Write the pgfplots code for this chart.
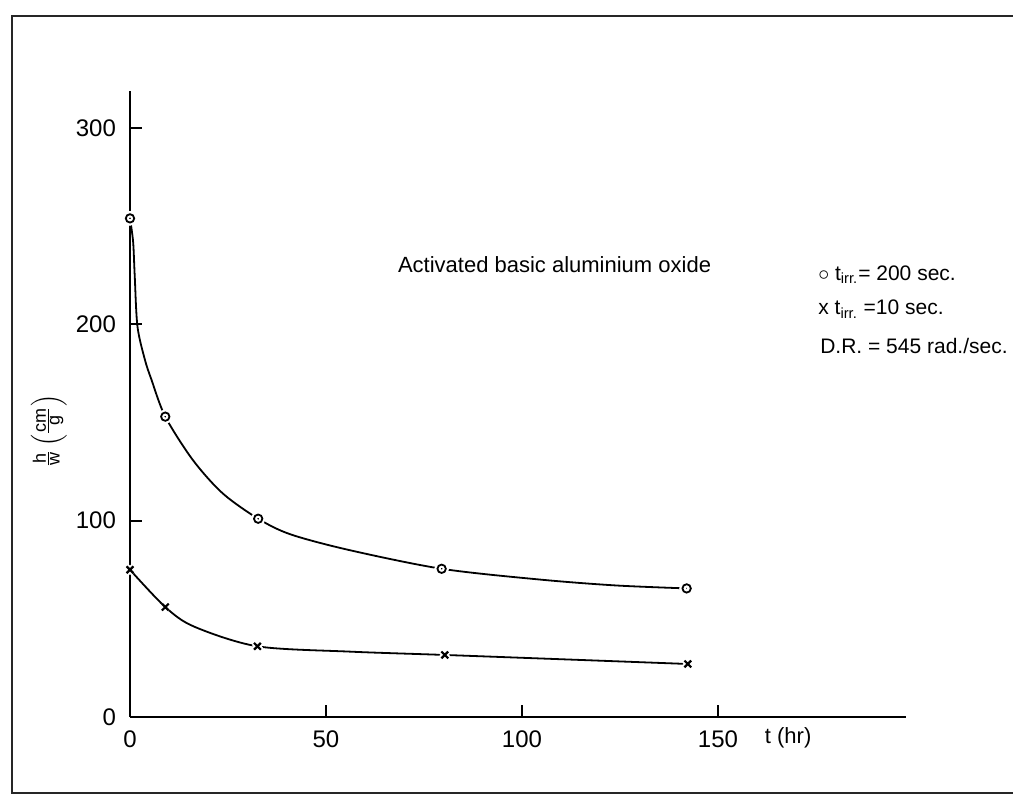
\documentclass[border=0pt]{standalone}
\usepackage{fontspec}
\setmainfont{Liberation Sans}
\usepackage{pgfplots}
\pgfplotsset{compat=1.18}

% traced curves (smooth line) and measured points
\pgfplotstableread{
t    hw
0    254
0.8  242
1.2  225
1.9  199
3.8  182
5.5  171.7
9.0  153
16   131
23.6 114
32.7 101
41   93
56   85
79.5 75.5
104.6 70
124  67
142  65.5
}\longcurve
\pgfplotstableread{
t    hw
0    254
9.0  153
32.7 101
79.5 75.5
142  65.5
}\longpts
\pgfplotstableread{
t    hw
0    75
9.0  56
16.4 46
32.5 36
56   33.3
80.3 31.6
115.6 29
142.3 27
}\shortcurve
\pgfplotstableread{
t    hw
0    75
9.0  56
32.5 36
80.3 31.6
142.3 27
}\shortpts

\begin{document}
\begin{tikzpicture}
\useasboundingbox (-65pt,-39pt) rectangle (441.5pt,358.5pt);
\draw[line width=1pt, black!85] (445pt,350.5pt) -- (-59pt,350.5pt) -- (-59pt,-38pt) -- (445pt,-38pt);
\begin{axis}[
  at={(0,0)}, anchor=origin,
  x=1.96pt, y=0.9815pt,
  xmin=0, xmax=198, ymin=0, ymax=319,
  axis x line=bottom, axis y line=left,
  axis line style={-, line width=1pt},
  xtick={0,50,100,150}, ytick={0,100,200,300},
  tick align=inside, major tick length=6pt,
  tick style={line width=1pt, black},
  ticklabel style={font=\fontsize{12}{14}\selectfont},
  xticklabel style={yshift=-3.5pt},
  yticklabel style={xshift=-3.5pt},
  /pgf/number format/assume math mode=true,
  clip=false,
]
\addplot[smooth, tension=0.5, line width=0.9pt, black] table {\longcurve};
\addplot[smooth, tension=0.5, line width=0.9pt, black] table {\shortcurve};

\addplot[only marks, mark=o, mark size=2.1pt, white, line width=3pt] table {\longpts};
\addplot[only marks, mark=o, mark size=2.1pt, black, line width=0.9pt] table {\longpts};
\addplot[only marks, mark=x, mark size=2.4pt, white, line width=3pt] table {\shortpts};
\addplot[only marks, mark=x, mark size=2.4pt, black, line width=1.1pt] table {\shortpts};

\node[anchor=base, font=\fontsize{11}{13}\selectfont] at (axis cs:108.3,226.2) {Activated basic aluminium oxide};
\node[anchor=base west, inner sep=0pt, font=\fontsize{10.5}{12}\selectfont] at (axis cs:175.5,222.6) {$\circ$ t\textsubscript{irr.}= 200 sec.};
\node[anchor=base west, inner sep=0pt, font=\fontsize{10.5}{12}\selectfont] at (axis cs:175.5,204.8) {x t\textsubscript{irr.} =10 sec.};
\node[anchor=base west, inner sep=0pt, font=\fontsize{10.5}{12}\selectfont] at (axis cs:176,185.4) {D.R. = 545 rad./sec.};
\node[font=\fontsize{11}{13}\selectfont] at (axis cs:167.9,-10.7) {t (hr)};
\node[rotate=90, font=\fontsize{9}{11}\selectfont] at (axis cs:-20.7,145.7) {$\frac{\mbox{h}}{\mbox{w}}\left(\frac{\mbox{cm}}{\mbox{g}}\right)$};
\end{axis}
\end{tikzpicture}
\end{document}
